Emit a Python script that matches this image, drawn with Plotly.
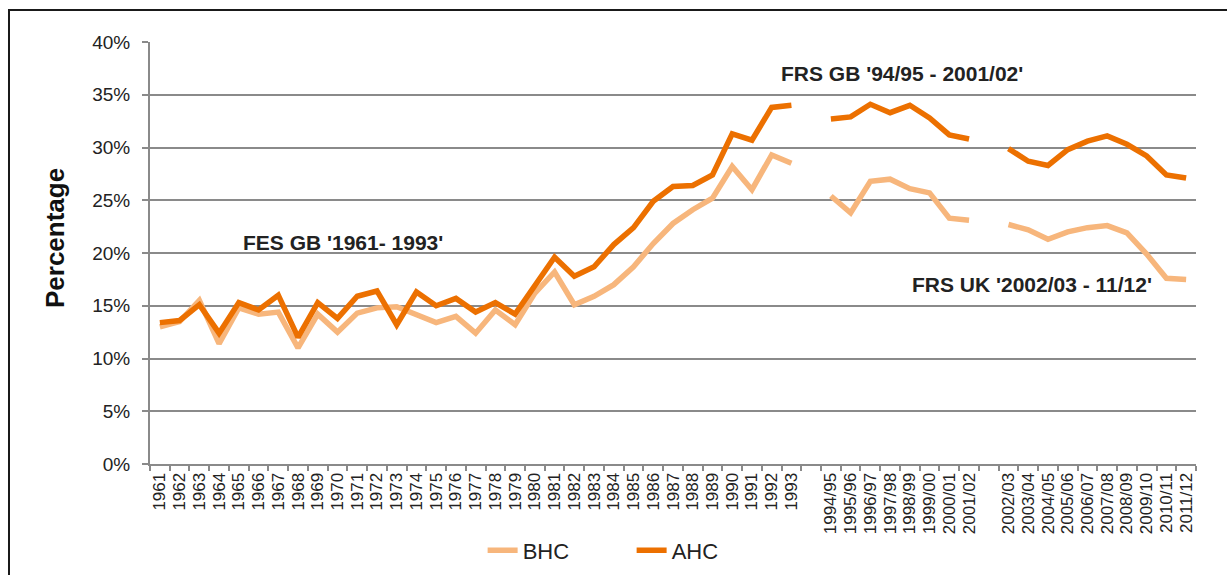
import plotly.graph_objects as go

# Survey years: FES 1961-1993, FRS GB 1994/95-2001/02, FRS UK 2002/03-2011/12
fes_years = [str(y) for y in range(1961, 1994)]
frs_gb_years = ["1994/95", "1995/96", "1996/97", "1997/98", "1998/99", "1999/00", "2000/01", "2001/02"]
frs_uk_years = ["2002/03", "2003/04", "2004/05", "2005/06", "2006/07", "2007/08", "2008/09",
                "2009/10", "2010/11", "2011/12"]

bhc_fes = [13.0, 13.5, 15.5, 11.4, 14.8, 14.2, 14.4, 11.0, 14.2, 12.5, 14.3, 14.8, 14.9, 14.1,
           13.4, 14.0, 12.4, 14.6, 13.2, 16.2, 18.2, 15.1, 15.9, 17.0, 18.7, 20.9, 22.8, 24.1,
           25.2, 28.2, 26.0, 29.3, 28.5]
ahc_fes = [13.4, 13.6, 15.1, 12.4, 15.3, 14.6, 16.0, 12.0, 15.3, 13.8, 15.9, 16.4, 13.2, 16.3,
           15.0, 15.7, 14.4, 15.3, 14.2, 17.0, 19.6, 17.8, 18.7, 20.8, 22.4, 24.9, 26.3, 26.4,
           27.4, 31.3, 30.7, 33.8, 34.0]
bhc_frs_gb = [25.4, 23.8, 26.8, 27.0, 26.1, 25.7, 23.3, 23.1]
ahc_frs_gb = [32.7, 32.9, 34.1, 33.3, 34.0, 32.8, 31.2, 30.8]
bhc_frs_uk = [22.7, 22.2, 21.3, 22.0, 22.4, 22.6, 21.9, 19.9, 17.6, 17.5]
ahc_frs_uk = [29.9, 28.7, 28.3, 29.8, 30.6, 31.1, 30.3, 29.2, 27.4, 27.1]

# blank slots separate the three survey series on the axis
categories = fes_years + [" "] + frs_gb_years + ["  "] + frs_uk_years
bhc = bhc_fes + [None] + bhc_frs_gb + [None] + bhc_frs_uk
ahc = ahc_fes + [None] + ahc_frs_gb + [None] + ahc_frs_uk

BHC_COLOR = "#F7B67C"
AHC_COLOR = "#EC7000"
GRID = "#8A8A8A"
TEXT = "#222222"

fig = go.Figure()
fig.add_trace(go.Scatter(x=categories, y=bhc, name="BHC", mode="lines",
                         line=dict(color=BHC_COLOR, width=5.5), connectgaps=False))
fig.add_trace(go.Scatter(x=categories, y=ahc, name="AHC", mode="lines",
                         line=dict(color=AHC_COLOR, width=5.5), connectgaps=False))

# survey-period labels, placed by category index
label_font = dict(family="Liberation Sans, Arial, sans-serif", size=21, color=TEXT)
period_labels = [
    ("FES GB '1961- 1993'", 9.3, 20.95),
    ("FRS GB '94/95 - 2001/02'", 37.6, 37.05),
    ("FRS UK '2002/03 - 11/12'", 44.2, 17.05),
]
for text, xi, yv in period_labels:
    fig.add_annotation(x=xi, y=yv, text="<b>" + text + "</b>", showarrow=False,
                       xanchor="center", yanchor="middle", font=label_font)

# y-axis title
fig.add_annotation(xref="paper", yref="paper", x=-0.091, y=0.535, text="<b>Percentage</b>",
                   textangle=-90, showarrow=False, xanchor="center", yanchor="middle",
                   font=dict(family="Liberation Sans, Arial, sans-serif", size=26, color="#111111"))

# outer frame
fig.add_shape(type="rect", xref="paper", yref="paper", x0=-0.1348, x1=1.2, y0=-0.4, y1=1.0758,
              line=dict(color="#1a1a1a", width=2), fillcolor="rgba(0,0,0,0)", layer="above")

fig.update_layout(
    width=1227, height=575,
    margin=dict(l=150, r=31, t=42, b=111, autoexpand=False),
    paper_bgcolor="white", plot_bgcolor="white",
    font=dict(family="Liberation Sans, Arial, sans-serif", color=TEXT),
    showlegend=True,
    legend=dict(orientation="h", x=0.318, xanchor="left", y=-0.205, yanchor="middle",
                font=dict(family="Liberation Sans, Arial, sans-serif", size=22, color=TEXT),
                entrywidth=104, entrywidthmode="pixels", tracegroupgap=0),
    xaxis=dict(type="category", categoryorder="array", categoryarray=categories,
               range=[-0.5, len(categories) - 0.5], automargin=False,
               tickmode="linear", tick0=0, dtick=1,
               showline=True, linecolor=GRID, linewidth=2, ticks="outside", tickson="boundaries",
               ticklen=5, tickcolor=GRID, tickwidth=1.5, tickangle=-90, showgrid=False,
               tickfont=dict(size=17, color=TEXT)),
    yaxis=dict(range=[0, 40], dtick=5, ticksuffix="%", showline=True, linecolor=GRID, linewidth=2,
               automargin=False, ticks="outside", ticklen=6, tickcolor=GRID, tickwidth=1.5,
               ticklabelstandoff=8,
               showgrid=True, gridcolor=GRID, gridwidth=1.5, zeroline=False,
               tickfont=dict(size=19, color=TEXT)),
)

fig.write_html("out.html")
